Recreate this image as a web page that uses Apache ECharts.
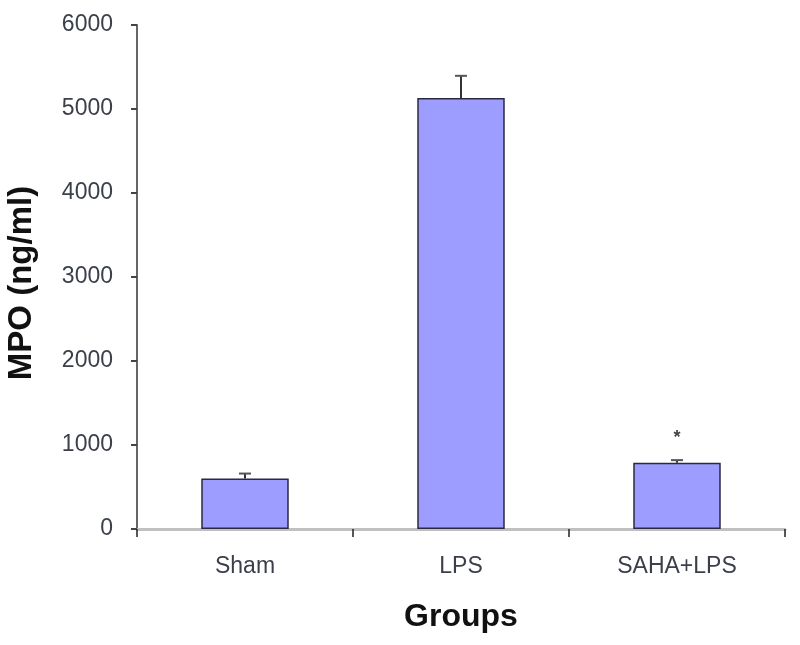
<!DOCTYPE html>
<html>
<head>
<meta charset="utf-8">
<script src="https://cdn.jsdelivr.net/npm/echarts@6/dist/echarts.min.js"></script>
<style>
html, body { margin: 0; padding: 0; background: #fff; }
#main { width: 800px; height: 645px; }
</style>
</head>
<body>
<div id="main"></div>
<script>
const groups = ['Sham', 'LPS', 'SAHA+LPS'];
const mpoMean = [600, 5130, 790];
const mpoErr = [60, 265, 30];
const sigMark = ['', '', '*'];
const yTicks = [0, 1000, 2000, 3000, 4000, 5000, 6000];

var chartDom = document.getElementById('main');
var myChart = echarts.init(chartDom);
var option;

const errData = groups.map(function (g, i) {
	return [i, mpoMean[i], mpoMean[i] + mpoErr[i], sigMark[i]];
});

option = {
	animation: false,
	grid: { left: 137, right: 15, top: 25, bottom: 116, containLabel: false, outerBoundsMode: 'none' },
	xAxis: {
		type: 'category',
		data: groups,
		name: 'Groups',
		nameLocation: 'middle',
		nameGap: 72,
		nameTextStyle: { fontFamily: 'Liberation Sans', fontSize: 32, fontWeight: 'bold', color: '#111' },
		axisLine: { lineStyle: { color: '#c0c0c0', width: 3 } },
		axisTick: { show: true, length: 8, lineStyle: { color: '#222', width: 1.5 } },
		axisLabel: { fontFamily: 'Liberation Sans', fontSize: 23, color: '#3a3f4a', margin: 26 }
	},
	yAxis: {
		type: 'value',
		min: yTicks[0],
		max: yTicks[yTicks.length - 1],
		interval: 1000,
		name: 'MPO (ng/ml)',
		nameLocation: 'middle',
		nameRotate: 90,
		nameGap: 99,
		nameTextStyle: { fontFamily: 'Liberation Sans', fontSize: 33, fontWeight: 'bold', color: '#111', padding: [0, 12, 0, 0] },
		axisLine: { show: true, lineStyle: { color: '#666', width: 2 } },
		axisTick: { show: true, length: 6, lineStyle: { color: '#444', width: 2 } },
		axisLabel: { fontFamily: 'Liberation Sans', fontSize: 23, color: '#3a3f4a', margin: 24, formatter: function (v) { return String(v); } },
		splitLine: { show: false }
	},
	series: [
		{
			type: 'bar',
			data: mpoMean,
			barWidth: '40.5%',
			itemStyle: { color: '#9d9dff', borderColor: '#2a2a40', borderWidth: 1.5 }
		},
		{
			type: 'custom',
			data: errData,
			z: 5,
			renderItem: function (params, api) {
				var base = api.coord([api.value(0), api.value(1)]);
				var top = api.coord([api.value(0), api.value(2)]);
				var mark = api.value(3);
				var children = [
					{ type: 'line', shape: { x1: base[0], y1: base[1], x2: top[0], y2: top[1] }, style: { stroke: '#333', lineWidth: 2 } },
					{ type: 'line', shape: { x1: top[0] - 6, y1: top[1], x2: top[0] + 6, y2: top[1] }, style: { stroke: '#555', lineWidth: 2 } }
				];
				if (mark) {
					children.push({ type: 'text', style: { text: mark, x: top[0], y: top[1] - 22, align: 'center', verticalAlign: 'middle', fontFamily: 'Liberation Sans', fontSize: 18, fontWeight: 'bold', fill: '#444' } });
				}
				return { type: 'group', children: children };
			}
		}
	]
};

option && myChart.setOption(option);
</script>
</body>
</html>
